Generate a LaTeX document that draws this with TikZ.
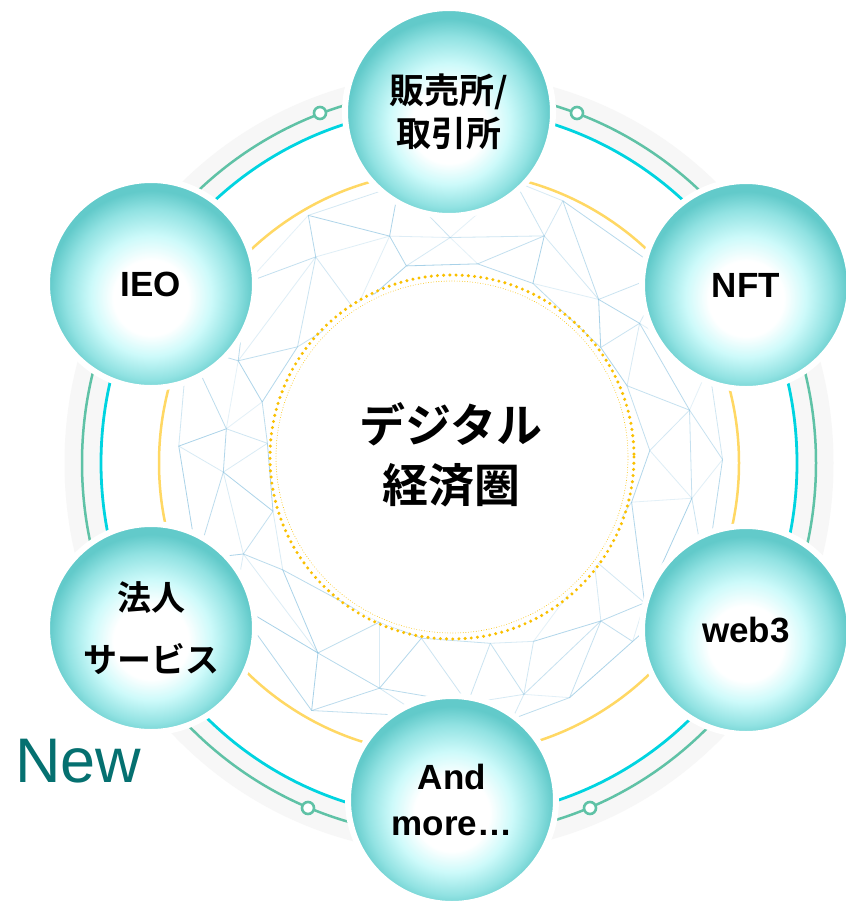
\documentclass[tikz,border=0pt]{standalone}
\usepackage{fontspec}
\setmainfont{Liberation Sans}
\newfontfamily\jp{Noto Sans CJK JP}[BoldFont={Noto Sans CJK JP Bold}]
\usetikzlibrary{calc}
\definecolor{ringgreen}{RGB}{95,194,166}
\definecolor{ringcyan}{RGB}{0,212,224}
\definecolor{ringyellow}{RGB}{255,216,100}
\definecolor{bandgray}{RGB}{247,247,247}
\definecolor{dotyellow}{RGB}{250,192,0}
\definecolor{meshblue}{RGB}{130,190,222}
\definecolor{newteal}{RGB}{5,112,112}
\definecolor{ballmid}{RGB}{205,250,250}
\definecolor{ballmidb}{RGB}{145,226,226}
\definecolor{balledge}{RGB}{98,202,202}
\pgfdeclareradialshading{ballshade}{\pgfpoint{0bp}{-4bp}}{color(0bp)=(white);color(9bp)=(white);color(14.5bp)=(ballmid);color(20.5bp)=(ballmidb);color(24.5bp)=(balledge);color(50bp)=(balledge)}
\tikzset{
  ball/.style={circle, minimum size=208pt, inner sep=0pt, shading=ballshade, draw=white, line width=6pt, align=center, text=black},
  latinlbl/.style={font=\fontsize{35}{41}\selectfont\bfseries},
  jplbl/.style={font=\jp\fontsize{35}{43}\selectfont\bfseries},
  meshline/.style={meshblue, line width=0.8pt},
  marker/.style={ringgreen, line width=2.6pt, fill=white},
}
\begin{document}
\begin{tikzpicture}[x=1pt,y=-1pt]
\useasboundingbox (0,0) rectangle (846,903);
\fill[white] (0,0) rectangle (846,903);
% outer rings
\draw[bandgray, line width=35pt] (449,463) ellipse [x radius=367, y radius=373];
\draw[ringgreen, line width=2.5pt] (449,463) ellipse [x radius=367, y radius=373];
\draw[ringcyan, line width=2.8pt] (449,463) ellipse [x radius=348, y radius=355];
\draw[ringyellow, line width=2.5pt] (449,463) ellipse [x radius=290, y radius=292];
% markers
\foreach \p in {(320,113),(577,113),(308,808),(590,808)}
  \draw[marker] \p circle (6);
% mesh
\begin{scope}[shift={(450,458)}, y=1pt]
\pgfmathsetseed{4242}
\foreach \k/\r in {0/190,1/232,2/274} {
  \foreach \i in {0,...,17} {
    \pgfmathsetmacro\ang{\i*20+\k*10+rand*7}
    \pgfmathsetmacro\rad{\r+rand*16}
    \coordinate (m-\k-\i) at (\ang:\rad);
  }
}
\foreach \k in {0,...,2} {
  \foreach \i in {0,...,17} {
    \pgfmathtruncatemacro\j{mod(\i+1,18)}
    \pgfmathsetmacro\op{0.2+0.5*rnd}
    \draw[meshline, opacity=\op] (m-\k-\i) -- (m-\k-\j);
  }
}
\foreach \k in {0,1} {
  \pgfmathtruncatemacro\kk{\k+1}
  \foreach \i in {0,...,17} {
    \pgfmathtruncatemacro\j{mod(\i+1,18)}
    \pgfmathsetmacro\opa{0.2+0.5*rnd}
    \pgfmathsetmacro\opb{0.2+0.5*rnd}
    \draw[meshline, opacity=\opa] (m-\k-\i) -- (m-\kk-\i);
    \draw[meshline, opacity=\opb] (m-\kk-\i) -- (m-\k-\j);
  }
}
\end{scope}
% centre circle
\fill[white] (452,457) circle (180);
\draw[dotyellow, line width=3.4pt, line cap=round, dash pattern=on 0pt off 6.2pt] (452,457) circle (182);
\draw[dotyellow, line width=0.9pt, line cap=round, dash pattern=on 0pt off 2.6pt] (452,457) circle (176);
\node[font=\jp\fontsize{46}{60}\selectfont\bfseries, align=center] (center) at (451,455) {デジタル\\経済圏};
% item nodes
\node[ball, jplbl] (shop) at (449,112) {販売所/\\取引所};
\node[ball, latinlbl] (nft) at (746,285) {NFT};
\node[ball, latinlbl] (web3) at (746,630) {web3};
\node[ball, latinlbl, font=\fontsize{35}{46}\selectfont\bfseries] (more) at (452,800) {And\\more…};
\node[ball, font=\jp\fontsize{34}{62}\selectfont\bfseries] (corp) at (151,628) {法人\\サービス};
\node[ball, latinlbl] (ieo) at (151,284) {IEO};
\node[anchor=base west, inner sep=0pt, text=newteal, font=\fontsize{63}{70}\selectfont] (new) at (15,782) {New};
\end{tikzpicture}
\end{document}
